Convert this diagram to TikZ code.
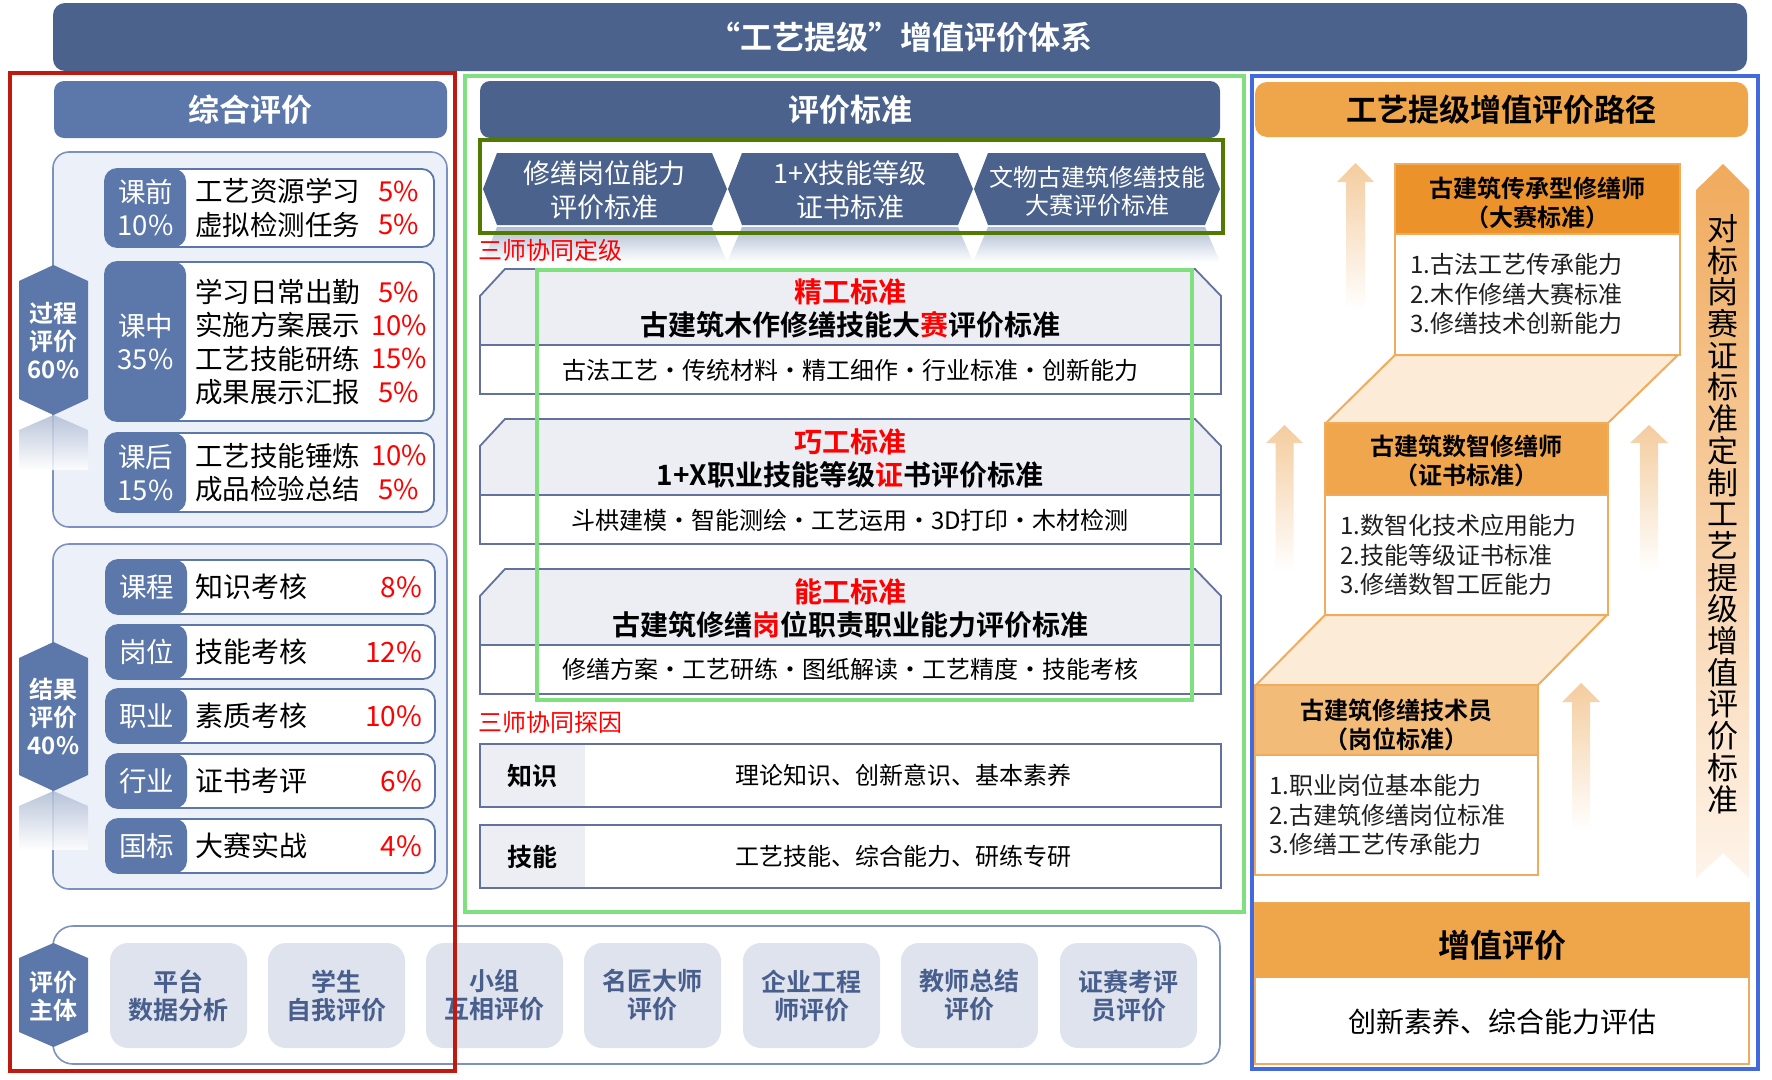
\documentclass[tikz,border=0pt]{standalone}
\usepackage{fontspec}
\setmainfont{Noto Sans CJK SC}[BoldFont={Noto Sans CJK SC Bold}]
\definecolor{navy}{RGB}{74,98,140}
\definecolor{blueM}{RGB}{92,120,170}
\definecolor{panelfill}{RGB}{236,240,248}
\definecolor{panelborder}{RGB}{125,145,192}
\definecolor{evalfill}{RGB}{222,227,238}
\definecolor{evaltext}{RGB}{72,94,140}
\definecolor{stdfill}{RGB}{236,238,244}
\definecolor{stdborder}{RGB}{98,114,156}
\definecolor{greenL}{RGB}{128,224,128}
\definecolor{greenD}{RGB}{82,122,0}
\definecolor{redbox}{RGB}{192,26,16}
\definecolor{bluebox}{RGB}{66,106,222}
\definecolor{orange1}{RGB}{236,146,42}
\definecolor{orange2}{RGB}{240,166,76}
\definecolor{orange3}{RGB}{243,187,120}
\definecolor{orangeH}{RGB}{239,166,74}
\definecolor{orangeline}{RGB}{240,172,92}
\definecolor{paral}{RGB}{252,235,214}
\definecolor{arrowc}{RGB}{244,204,158}
\definecolor{refl}{RGB}{175,188,212}
\definecolor{pctred}{RGB}{255,0,0}
\newcommand\FS[2]{\fontsize{#1}{#2}\selectfont}
\newcommand\UpArr[6]{\shade[top color=arrowc, bottom color=white] (#1,#2) -- ({#1+#3},#5) -- ({#1+#4},#5) -- ({#1+#4},#6) -- ({#1-#4},#6) -- ({#1-#4},#5) -- ({#1-#3},#5) -- cycle;}
\begin{document}
\begin{tikzpicture}[x=1pt,y=-1pt,
  every node/.style={inner sep=0pt,outer sep=0pt},
  nw/.style={anchor=north west},
  panel/.style={nw, draw=panelborder, line width=1.6pt, fill=panelfill, rounded corners=16pt},
  row/.style={nw, draw=blueM, line width=1.8pt, fill=white, rounded corners=12pt, minimum width=329pt,
    path picture={\fill[blueM] (path picture bounding box.north west) rectangle ([xshift=81pt]path picture bounding box.south west);}},
  lbl/.style={text=white, font=\FS{27.5}{33}, align=center},
  itm/.style={anchor=west, font=\FS{27.5}{33.3}, align=left},
  pct/.style={text=pctred, font=\FS{27.5}{33.3}, align=center},
  pctr/.style={text=pctred, font=\FS{28}{32}, anchor=east},
  hexlbl/.style={text=white, font=\FS{24}{28}\bfseries, align=center},
  evalbox/.style={nw, fill=evalfill, rounded corners=18pt, minimum width=137pt, minimum height=105pt, text=evaltext, font=\FS{25}{28}\bfseries, align=center},
  chev/.style={fill=navy},
  chevtxt/.style={text=white, align=center},
  stdline/.style={draw=stdborder, line width=1.8pt},
  redt/.style={text=pctred, font=\FS{24}{28}, anchor=west},
  kbox/.style={nw, draw=stdborder, line width=2.2pt, fill=white, minimum width=741pt, minimum height=63pt,
    path picture={\fill[stdfill] (path picture bounding box.north west) rectangle ([xshift=105pt]path picture bounding box.south west);}},
  obody/.style={nw, draw=orangeline, line width=2.2pt, fill=white},
  ohead/.style={nw, draw=orangeline, line width=1.5pt},
  ohtxt/.style={font=\FS{24}{29}\bfseries, align=center},
  obtxt/.style={anchor=west, font=\FS{24}{29.5}, align=left, text={black!88}}
]
\fill[white] (0,0) rectangle (1772,1079);
\useasboundingbox (0,0) rectangle (1772,1079);

% ===== title bar
\node[nw, fill=navy, rounded corners=12pt, minimum width=1694pt, minimum height=68pt, text=white, font=\FS{32}{36}\bfseries] (title) at (53,3) {“工艺提级”增值评价体系};

% ===== left column
\node[nw, fill=blueM, rounded corners=10pt, minimum width=393pt, minimum height=57pt, text=white, font=\FS{31}{34}\bfseries] (zh) at (54,81) {综合评价};

\node[panel, minimum width=394pt, minimum height=375pt] (pp) at (53,152) {};
\node[panel, minimum width=394pt, minimum height=345pt] (rp) at (53,544) {};

% hexagon 1 + reflection
\shade[top color=refl, bottom color=white, opacity=0.85] (19,430) -- (53.5,415) -- (88,430) -- (88,470) -- (19,470) -- cycle;
\fill[blueM] (53.5,265) -- (88,281) -- (88,399) -- (53.5,415) -- (19,399) -- (19,281) -- cycle;
\node[hexlbl] (h1) at (53.5,341) {过程\\评价\\60\%};

% hexagon 2 + reflection
\shade[top color=refl, bottom color=white, opacity=0.85] (19,806) -- (53.5,791) -- (88,806) -- (88,850) -- (19,850) -- cycle;
\fill[blueM] (53.5,642) -- (88,658) -- (88,775) -- (53.5,791) -- (19,775) -- (19,658) -- cycle;
\node[hexlbl] (h2) at (53.5,716.5) {结果\\评价\\40\%};

% process rows
\node[row, minimum height=78pt] (r1) at (105,169) {};
\node[lbl] (r1l) at (145.5,208) {课前\\10\%};
\node[itm] (r1i) at (195,208) {工艺资源学习\\虚拟检测任务};
\node[pct] (r1p) at (399,208) {5\%\\5\%};

\node[row, minimum height=159pt] (r2) at (105,262) {};
\node[lbl] (r2l) at (145.5,342) {课中\\35\%};
\node[itm] (r2i) at (195,342) {学习日常出勤\\实施方案展示\\工艺技能研练\\成果展示汇报};
\node[pct] (r2p) at (399,342) {5\%\\10\%\\15\%\\5\%};

\node[row, minimum height=79pt] (r3) at (105,433) {};
\node[lbl] (r3l) at (145.5,472.5) {课后\\15\%};
\node[itm] (r3i) at (195,472.5) {工艺技能锤炼\\成品检验总结};
\node[pct] (r3p) at (399,472.5) {10\%\\5\%};

% result rows
\node[row, minimum height=54pt] (q1) at (106,560) {};
\node[lbl] (q1l) at (146.5,587) {课程};
\node[itm, font=\FS{28}{32}] (q1i) at (195,587) {知识考核};
\node[pctr] (q1p) at (422,587) {8\%};

\node[row, minimum height=54pt] (q2) at (106,625) {};
\node[lbl] (q2l) at (146.5,652) {岗位};
\node[itm, font=\FS{28}{32}] (q2i) at (195,652) {技能考核};
\node[pctr] (q2p) at (422,652) {12\%};

\node[row, minimum height=54pt] (q3) at (106,689) {};
\node[lbl] (q3l) at (146.5,716) {职业};
\node[itm, font=\FS{28}{32}] (q3i) at (195,716) {素质考核};
\node[pctr] (q3p) at (422,716) {10\%};

\node[row, minimum height=54pt] (q4) at (106,754) {};
\node[lbl] (q4l) at (146.5,781) {行业};
\node[itm, font=\FS{28}{32}] (q4i) at (195,781) {证书考评};
\node[pctr] (q4p) at (422,781) {6\%};

\node[row, minimum height=54pt] (q5) at (106,819) {};
\node[lbl] (q5l) at (146.5,846) {国标};
\node[itm, font=\FS{28}{32}] (q5i) at (195,846) {大赛实战};
\node[pctr] (q5p) at (422,846) {4\%};

% ===== evaluation subjects
\node[nw, draw=panelborder, line width=1.6pt, fill=white, rounded corners=20pt, minimum width=1167pt, minimum height=138pt] (sp) at (53,926) {};
\fill[blueM] (53.5,943) -- (88,958) -- (88,1032) -- (53.5,1047) -- (19,1032) -- (19,958) -- cycle;
\node[hexlbl] (h3) at (53.5,996) {评价\\主体};
\node[evalbox] (e1) at (110,943) {平台\\数据分析};
\node[evalbox] (e2) at (268,943) {学生\\自我评价};
\node[evalbox] (e3) at (426,943) {小组\\互相评价};
\node[evalbox] (e4) at (584,943) {名匠大师\\评价};
\node[evalbox] (e5) at (743,943) {企业工程\\师评价};
\node[evalbox] (e6) at (901,943) {教师总结\\评价};
\node[evalbox] (e7) at (1060,943) {证赛考评\\员评价};

% ===== middle column
\node[nw, fill=navy, rounded corners=10pt, minimum width=740pt, minimum height=57pt, text=white, font=\FS{31}{34}\bfseries] (mh) at (480,81) {评价标准};

% chevron reflections
\shade[top color=refl, bottom color=white] (497,227) -- (712,227) -- (727,262) -- (483,262) -- cycle;
\shade[top color=refl, bottom color=white] (742,227) -- (958,227) -- (973,262) -- (727,262) -- cycle;
\shade[top color=refl, bottom color=white] (988,227) -- (1205,227) -- (1220,262) -- (973,262) -- cycle;
% chevrons
\fill[chev] (483,189) -- (497,153) -- (712,153) -- (727,189) -- (712,225) -- (497,225) -- cycle;
\fill[chev] (728,189) -- (742,153) -- (958,153) -- (973,189) -- (958,225) -- (742,225) -- cycle;
\fill[chev] (974,189) -- (988,153) -- (1205,153) -- (1220,189) -- (1205,225) -- (988,225) -- cycle;
\node[chevtxt, font=\FS{27}{34}] (c1) at (604,190) {修缮岗位能力\\评价标准};
\node[chevtxt, font=\FS{27}{34}] (c2) at (850,190) {1+X技能等级\\证书标准};
\node[chevtxt, font=\FS{24}{28}] (c3) at (1097,191) {文物古建筑修缮技能\\大赛评价标准};
\draw[greenD, line width=4pt] (480,140) rectangle (1223,233);

\node[redt] (t1) at (478,250) {三师协同定级};

% standard blocks
\foreach \T in {269,419,569}{
  \fill[white] (480,\T+27) -- (505,\T) -- (1195,\T) -- (1221,\T+27) -- (1221,\T+125) -- (480,\T+125) -- cycle;
  \fill[stdfill] (480,\T+27) -- (505,\T) -- (1195,\T) -- (1221,\T+27) -- (1221,\T+76) -- (480,\T+76) -- cycle;
  \draw[stdline] (480,\T+27) -- (505,\T) -- (1195,\T) -- (1221,\T+27) -- (1221,\T+125) -- (480,\T+125) -- cycle;
  \draw[stdline] (480,\T+76) -- (1221,\T+76);
}
\node[font=\FS{28}{32}\bfseries, text=pctred] (s1a) at (850,292) {精工标准};
\node[font=\FS{28}{32}\bfseries] (s1b) at (850,325) {古建筑木作修缮技能大\textcolor{pctred}{赛}评价标准};
\node[font=\FS{24}{28}] (s1c) at (850,370) {古法工艺·传统材料·精工细作·行业标准·创新能力};
\node[font=\FS{28}{32}\bfseries, text=pctred] (s2a) at (850,442) {巧工标准};
\node[font=\FS{28}{32}\bfseries] (s2b) at (850,475) {1+X职业技能等级\textcolor{pctred}{证}书评价标准};
\node[font=\FS{24}{28}] (s2c) at (850,520) {斗栱建模·智能测绘·工艺运用·3D打印·木材检测};
\node[font=\FS{28}{32}\bfseries, text=pctred] (s3a) at (850,592) {能工标准};
\node[font=\FS{28}{32}\bfseries] (s3b) at (850,625) {古建筑修缮\textcolor{pctred}{岗}位职责职业能力评价标准};
\node[font=\FS{24}{28}] (s3c) at (850,669) {修缮方案·工艺研练·图纸解读·工艺精度·技能考核};

\draw[greenL, line width=4pt] (537,270) rectangle (1192,700);

\node[redt] (t2) at (478,722) {三师协同探因};

\node[kbox] (k1) at (480,744) {};
\node[font=\FS{25}{28}\bfseries] (k1a) at (532.5,775.5) {知识};
\node[font=\FS{24}{28}] (k1b) at (903,775.5) {理论知识、创新意识、基本素养};
\node[kbox] (k2) at (480,825) {};
\node[font=\FS{25}{28}\bfseries] (k2a) at (532.5,856.5) {技能};
\node[font=\FS{24}{28}] (k2b) at (903,856.5) {工艺技能、综合能力、研练专研};

\draw[greenL, line width=4pt] (465,76) rectangle (1244,912);

% ===== right column
\node[nw, fill=orangeH, rounded corners=12pt, minimum width=493pt, minimum height=55pt, font=\FS{31}{34}\bfseries] (rh) at (1255,82) {工艺提级增值评价路径};

\UpArr{1355.5}{163}{18.5}{9.5}{182}{310}
\UpArr{1284.5}{425}{18.5}{9}{443}{572}
\UpArr{1649}{425}{19}{9}{443}{572}
\UpArr{1581}{683}{19}{9}{702}{830}

\shade[top color={rgb,255:red,240;green,170;blue,92}, bottom color={rgb,255:red,254;green,244;blue,234}] (1723,164) -- (1749,190) -- (1749,878) -- (1723,853) -- (1696,878) -- (1696,190) -- cycle;
\node[font=\FS{31}{31.7}, align=center] (vt) at (1723,514) {对\\标\\岗\\赛\\证\\标\\准\\定\\制\\工\\艺\\提\\级\\增\\值\\评\\价\\标\\准};

\filldraw[fill=paral, draw=orangeline, line width=2pt] (1395,355) -- (1678,355) -- (1608,423) -- (1326,423) -- cycle;
\filldraw[fill=paral, draw=orangeline, line width=2pt] (1325,615) -- (1607,615) -- (1538,685) -- (1256,685) -- cycle;

% top box
\node[obody, minimum width=285pt, minimum height=191pt] (b1) at (1395,164) {};
\node[ohead, fill=orange1, minimum width=285pt, minimum height=70pt] (b1h) at (1395,164) {};
\node[ohtxt] (b1t) at (1537.5,202.5) {古建筑传承型修缮师\\（大赛标准）};
\node[obtxt] (b1b) at (1410,294) {1.古法工艺传承能力\\2.木作修缮大赛标准\\3.修缮技术创新能力};

% middle box
\node[obody, minimum width=283pt, minimum height=192pt] (b2) at (1325,423) {};
\node[ohead, fill=orange2, minimum width=283pt, minimum height=72pt] (b2h) at (1325,423) {};
\node[ohtxt] (b2t) at (1466.5,461) {古建筑数智修缮师\\（证书标准）};
\node[obtxt] (b2b) at (1340,555) {1.数智化技术应用能力\\2.技能等级证书标准\\3.修缮数智工匠能力};

% bottom box
\node[obody, minimum width=283pt, minimum height=190pt] (b3) at (1255,685) {};
\node[ohead, fill=orange3, minimum width=283pt, minimum height=70pt] (b3h) at (1255,685) {};
\node[ohtxt] (b3t) at (1396.5,725) {古建筑修缮技术员\\（岗位标准）};
\node[obtxt] (b3b) at (1269,815) {1.职业岗位基本能力\\2.古建筑修缮岗位标准\\3.修缮工艺传承能力};

% value-added box
\node[obody, minimum width=494pt, minimum height=161pt] (va) at (1255,903) {};
\node[nw, fill=orangeH, minimum width=494pt, minimum height=75pt] (vah) at (1255,903) {};
\node[font=\FS{32}{36}\bfseries] (vat) at (1502,945) {增值评价};
\node[font=\FS{28}{32}] (vab) at (1502,1022) {创新素养、综合能力评估};

% ===== outer frames
\draw[redbox, line width=4pt] (10,73) rectangle (455,1071);
\draw[bluebox, line width=4pt] (1252,76) rectangle (1758,1069);
\end{tikzpicture}
\end{document}
